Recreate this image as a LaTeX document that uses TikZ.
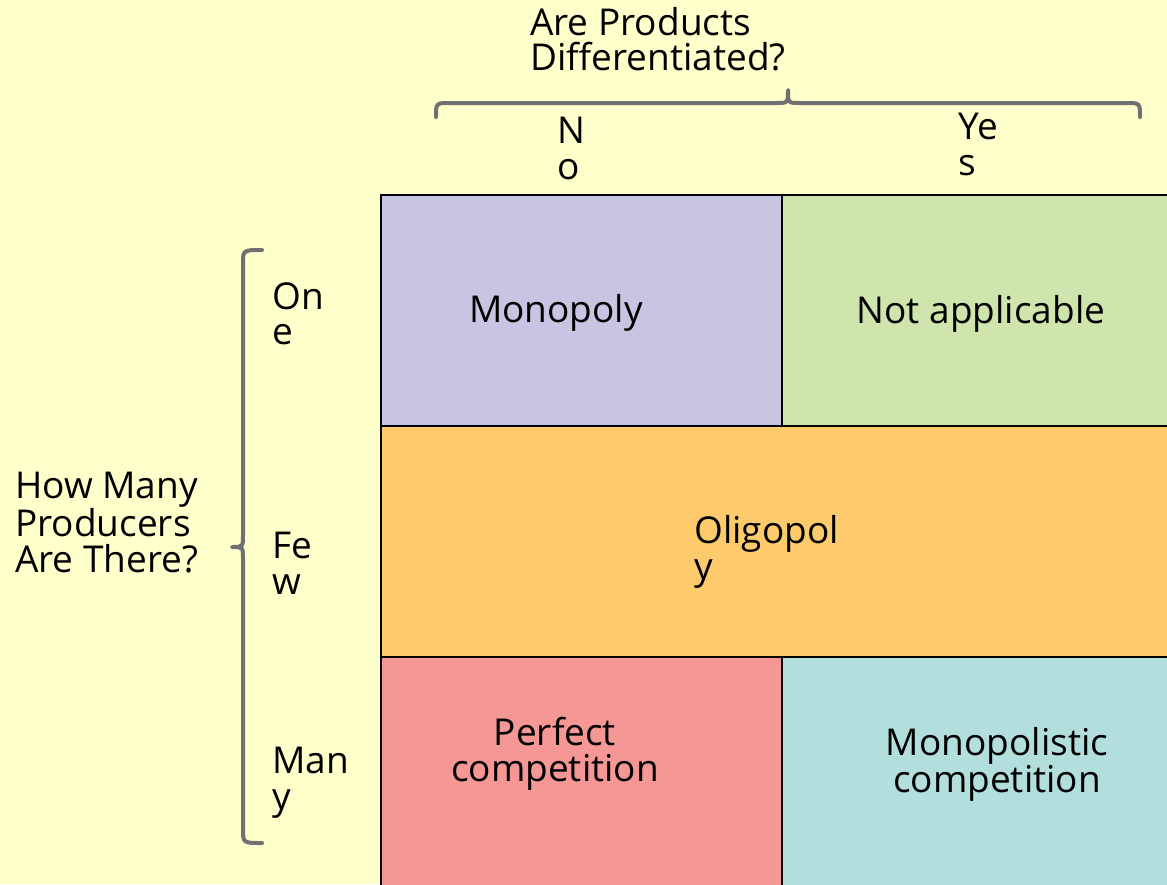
\documentclass[tikz,border=0pt]{standalone}
\usepackage{fontspec}
\setmainfont{Open Sans}
\definecolor{bgyellow}{HTML}{FFFFCC}
\definecolor{monocol}{HTML}{C8C5E2}
\definecolor{nacol}{HTML}{CFE5AD}
\definecolor{oligocol}{HTML}{FDCB6B}
\definecolor{perfcol}{HTML}{F59795}
\definecolor{mpcol}{HTML}{B2DFDB}
\definecolor{bracecol}{HTML}{707070}
\tikzset{cell/.style={draw=black, line width=2pt},
  celltext/.style={inner sep=0pt, font=\fontsize{37}{36}\selectfont},
  sidetext/.style={inner sep=0pt, align=left, anchor=north west, font=\fontsize{37}{35.5}\selectfont},
  bigbrace/.style={draw=bracecol, line width=4pt, line cap=round, line join=round}}
\begin{document}
\begin{tikzpicture}[x=1pt, y=-1pt]
		\useasboundingbox[fill=bgyellow] (0,0) rectangle (1167,884);
		% cells
		\draw[cell, fill=monocol] (381,195) rectangle (782,426);
		\draw[cell, fill=nacol] (782,195) rectangle (1170,426);
		\draw[cell, fill=oligocol] (381,426) rectangle (1170,657);
		\draw[cell, fill=perfcol] (381,657) rectangle (782,890);
		\draw[cell, fill=mpcol] (782,657) rectangle (1170,890);
		\node[celltext] (mono) at (556,313) {Monopoly};
		\node[celltext] (na) at (981,314) {Not applicable};
		\node[celltext, align=left, anchor=north west] (oligo) at (694,515) {Oligopol\\y};
		\node[celltext, align=center] (perf) at (555,754) {Perfect\\competition};
		\node[celltext, align=center] (mpc) at (997,764) {Monopolistic\\competition};
		% braces
		\coordinate (tl) at (436,117);
		\coordinate (tr) at (1140,117);
		\coordinate (ttip) at (788,90);
		\coordinate (lt) at (262,250);
		\coordinate (lb) at (262,843);
		\coordinate (ltip) at (232,547);
		\draw[bigbrace] (tl) .. controls (436,103) .. (450,103) -- (776,103)
			.. controls (788,103) .. (ttip) .. controls (788,103) .. (800,103)
			-- (1126,103) .. controls (1140,103) .. (tr);
		\draw[bigbrace] (lt) .. controls (243,250) .. (243,264) -- (243,535)
			.. controls (243,547) .. (ltip) .. controls (243,547) .. (243,559)
			-- (243,829) .. controls (243,843) .. (lb);
		% labels
		\node[sidetext] (diff) at (530,7) {Are Products\\Differentiated?};
		\node[sidetext] (no) at (557,117) {N\\o};
		\node[sidetext] (yes) at (958,113) {Ye\\s};
		\node[sidetext] (one) at (272,282) {On\\e};
		\node[sidetext] (few) at (272,532) {Fe\\w};
		\node[sidetext] (many) at (272,747) {Man\\y};
		\node[sidetext] (howmany) at (15,472) {How Many\\Producers\\Are There?};
\end{tikzpicture}
\end{document}
